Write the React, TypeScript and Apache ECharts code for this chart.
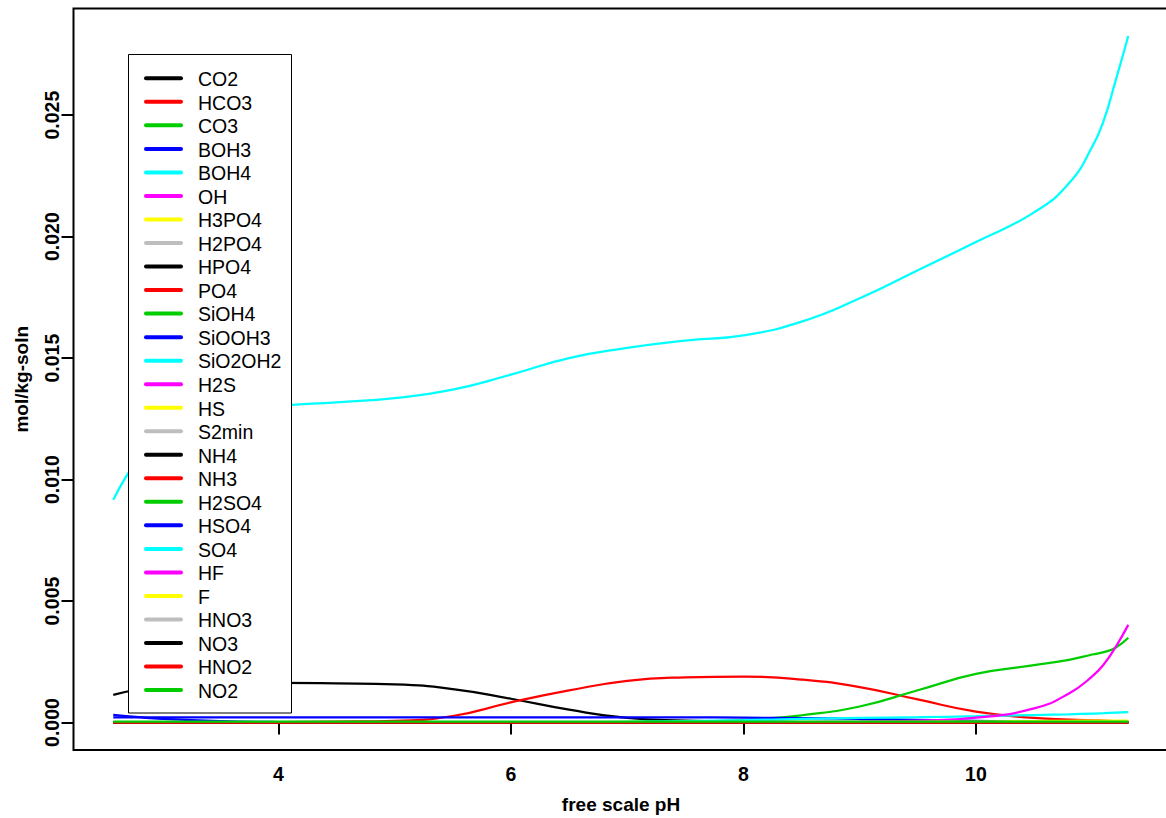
import React, { useEffect, useRef } from "react";
import * as echarts from "echarts";

// free scale pH grid (x values)
const pH = [2.58, 2.8, 3.0, 3.5, 4.0, 4.5, 5.0, 5.5, 6.0, 6.5, 7.0, 7.5, 8.0, 8.5, 9.0, 9.5, 10.0, 10.5, 10.8, 11.0, 11.1, 11.2, 11.31];

// species concentrations, mol/kg-soln
const CO2 = [0.00114, 0.00137, 0.0015, 0.0016, 0.00163, 0.00161, 0.00157, 0.00138, 0.00098, 0.00053, 0.00019, 0.00008, 0.00004, 0.00002, 0.00001, 0, 0, 0, 0, 0, 0, 0, 0];
const HCO3 = [0, 0, 0, 0.00001, 0.00002, 0.00004, 0.00007, 0.00027, 0.00083, 0.00132, 0.00172, 0.00186, 0.00189, 0.00177, 0.00146, 0.00095, 0.00045, 0.00019, 0.00012, 0.00009, 0.00008, 0.00006, 0.00005];
const CO3 = [0, 0, 0, 0, 0, 0, 0, 0, 0, 0.00001, 0.00002, 0.00004, 0.0001, 0.0003, 0.00066, 0.00133, 0.002, 0.00236, 0.00258, 0.0028, 0.0029, 0.00308, 0.00349];
const BOH3 = [0.00021, 0.00021, 0.00021, 0.00021, 0.00021, 0.00021, 0.00021, 0.00021, 0.00021, 0.00021, 0.00021, 0.00021, 0.0002, 0.00018, 0.00015, 0.00011, 0.00007, 0.00003, 0.00002, 0.00001, 0.00001, 0.00001, 0];
const BOH4 = [0, 0, 0, 0, 0, 0, 0, 0, 0.00001, 0.00001, 0.00003, 0.00006, 0.0001, 0.00015, 0.00019, 0.00022, 0.00026, 0.00031, 0.00034, 0.00037, 0.00039, 0.00041, 0.00043];
const OH = [0, 0, 0, 0, 0, 0, 0, 0, 0, 0, 0, 0.00001, 0.00001, 0.00002, 0.00004, 0.00008, 0.0002, 0.00058, 0.0012, 0.0019, 0.0024, 0.0031, 0.00402];
const H3PO4 = [0, 0, 0, 0, 0, 0, 0, 0, 0, 0, 0, 0, 0, 0, 0, 0, 0, 0, 0, 0, 0, 0, 0];
const H2PO4 = [0, 0, 0, 0, 0, 0, 0, 0, 0, 0, 0, 0, 0, 0, 0, 0, 0, 0, 0, 0, 0, 0, 0];
const HPO4 = [0, 0, 0, 0, 0, 0, 0, 0, 0, 0, 0, 0, 0, 0, 0, 0, 0, 0, 0, 0, 0, 0, 0];
const PO4 = [0, 0, 0, 0, 0, 0, 0, 0, 0, 0, 0, 0, 0, 0, 0, 0, 0, 0, 0, 0, 0, 0, 0];
const SiOH4 = [0, 0, 0, 0, 0, 0, 0, 0, 0, 0, 0, 0, 0, 0, 0, 0, 0, 0, 0, 0, 0, 0, 0];
const SiOOH3 = [0, 0, 0, 0, 0, 0, 0, 0, 0, 0, 0, 0, 0, 0, 0, 0, 0, 0, 0, 0, 0, 0, 0];
const SiO2OH2 = [0, 0, 0, 0, 0, 0, 0, 0, 0, 0, 0, 0, 0, 0, 0, 0, 0, 0, 0, 0, 0, 0, 0];
const H2S = [0, 0, 0, 0, 0, 0, 0, 0, 0, 0, 0, 0, 0, 0, 0, 0, 0, 0, 0, 0, 0, 0, 0];
const HS = [0, 0, 0, 0, 0, 0, 0, 0, 0, 0, 0, 0, 0, 0.00001, 0.00002, 0.00003, 0.00004, 0.00006, 0.00007, 0.00008, 0.00008, 0.00008, 0.00008];
const S2min = [0, 0, 0, 0, 0, 0, 0, 0, 0, 0, 0, 0, 0, 0, 0, 0, 0, 0, 0, 0, 0, 0, 0];
const NH4 = [0, 0, 0, 0, 0, 0, 0, 0, 0, 0, 0, 0, 0, 0, 0, 0, 0, 0, 0, 0, 0, 0, 0];
const NH3 = [0, 0, 0, 0, 0, 0, 0, 0, 0, 0, 0, 0, 0, 0, 0, 0, 0, 0, 0, 0, 0, 0, 0];
const H2SO4 = [0, 0, 0, 0, 0, 0, 0, 0, 0, 0, 0, 0, 0, 0, 0, 0, 0, 0, 0, 0, 0, 0, 0];
const HSO4 = [0.00032, 0.00022, 0.00015, 0.00006, 0.00002, 0.00001, 0, 0, 0, 0, 0, 0, 0, 0, 0, 0, 0, 0, 0, 0, 0, 0, 0];
const SO4 = [0.00917, 0.0109, 0.0119, 0.0127, 0.01302, 0.01318, 0.01335, 0.0137, 0.01432, 0.015, 0.01542, 0.01572, 0.01594, 0.0165, 0.01746, 0.01862, 0.01978, 0.021, 0.0222, 0.0237, 0.0248, 0.0264, 0.02826];
const HF = [0, 0, 0, 0, 0, 0, 0, 0, 0, 0, 0, 0, 0, 0, 0, 0, 0, 0, 0, 0, 0, 0, 0];
const F = [0, 0, 0, 0, 0, 0, 0, 0, 0, 0, 0, 0, 0, 0, 0, 0, 0, 0, 0, 0, 0, 0, 0];
const HNO3 = [0, 0, 0, 0, 0, 0, 0, 0, 0, 0, 0, 0, 0, 0, 0, 0, 0, 0, 0, 0, 0, 0, 0];
const NO3 = [0, 0, 0, 0, 0, 0, 0, 0, 0, 0, 0, 0, 0, 0, 0, 0, 0, 0, 0, 0, 0, 0, 0];
const HNO2 = [0, 0, 0, 0, 0, 0, 0, 0, 0, 0, 0, 0, 0, 0, 0, 0, 0, 0, 0, 0, 0, 0, 0];
const NO2 = [0.00004, 0.00004, 0.00004, 0.00004, 0.00004, 0.00004, 0.00004, 0.00004, 0.00004, 0.00004, 0.00004, 0.00004, 0.00004, 0.00004, 0.00004, 0.00004, 0.00004, 0.00004, 0.00004, 0.00004, 0.00004, 0.00004, 0.00004];

const speciesNames = ["CO2", "HCO3", "CO3", "BOH3", "BOH4", "OH", "H3PO4", "H2PO4", "HPO4", "PO4", "SiOH4", "SiOOH3", "SiO2OH2", "H2S", "HS", "S2min", "NH4", "NH3", "H2SO4", "HSO4", "SO4", "HF", "F", "HNO3", "NO3", "HNO2", "NO2"];
const speciesValues = [CO2, HCO3, CO3, BOH3, BOH4, OH, H3PO4, H2PO4, HPO4, PO4, SiOH4, SiOOH3, SiO2OH2, H2S, HS, S2min, NH4, NH3, H2SO4, HSO4, SO4, HF, F, HNO3, NO3, HNO2, NO2];
const palette = ["#000000", "#FF0000", "#00CD00", "#0000FF", "#00FFFF", "#FF00FF", "#FFFF00", "#BEBEBE"];

const xTicks = [4, 6, 8, 10];
const yTicks = [0, 0.005, 0.01, 0.015, 0.02, 0.025];

const FONT = "'Liberation Sans', Arial, Helvetica, sans-serif";

export default function App() {
  const ref = useRef<HTMLDivElement>(null);
  useEffect(() => {
    document.body.style.margin = "0";
    const chart = echarts.init(ref.current!, null, { renderer: "svg" });

    const colorOf = (i: number) => palette[i % palette.length];

    const series = speciesNames.map((name, i) => ({
      name,
      type: "line",
      data: pH.map((x, j) => [x, speciesValues[i][j]]),
      showSymbol: false,
      symbol: "none",
      smooth: 0.5,
      silent: true,
      lineStyle: { width: 2.25, color: colorOf(i) },
      itemStyle: { color: colorOf(i) },
      emphasis: { disabled: true },
    }));

    const legendLeft = 128.5;
    const legendTop = 54.5;
    const rowStart = 78.3;
    const rowStep = 23.53;
    const legendElems: any[] = [
      {
        type: "rect",
        shape: { x: legendLeft, y: legendTop, width: 163, height: 658.5 },
        style: { fill: "#ffffff", stroke: "#000000", lineWidth: 1 },
        z: 100,
      },
    ];
    speciesNames.forEach((name, i) => {
      const y = rowStart + i * rowStep;
      legendElems.push({
        type: "line",
        shape: { x1: 146, y1: y, x2: 181, y2: y },
        style: { stroke: colorOf(i), lineWidth: 4, lineCap: "round" },
        z: 101,
      });
      legendElems.push({
        type: "text",
        x: 198,
        y: y + 0.8,
        style: {
          text: name,
          fill: "#000000",
          font: `19.5px ${FONT}`,
          verticalAlign: "middle",
          align: "left",
        },
        z: 101,
      });
    });

    chart.setOption({
      animation: false,
      backgroundColor: "#ffffff",
      grid: {
        left: 73.5,
        top: 8.5,
        width: 1095,
        height: 741.5,
        show: true,
        borderColor: "#000000",
        borderWidth: 2,
        backgroundColor: "transparent",
        containLabel: false,
        outerBoundsMode: "none",
      },
      xAxis: {
        type: "value",
        min: 2.238,
        max: 11.656,
        axisLine: { show: false },
        splitLine: { show: false },
        axisTick: { show: true, inside: false, length: 12, lineStyle: { color: "#000000", width: 2 }, customValues: xTicks },
        axisLabel: {
          customValues: xTicks,
          fontSize: 19.5,
          fontWeight: "bold",
          color: "#000000",
          fontFamily: FONT,
          margin: 14,
          formatter: (v: number) => String(v),
        },
        name: "free scale pH",
        nameLocation: "middle",
        nameGap: 45,
        nameTextStyle: { fontSize: 19, fontWeight: "bold", color: "#000000", fontFamily: FONT },
      },
      yAxis: {
        type: "value",
        min: -0.00113,
        max: 0.02939,
        axisLine: { show: false },
        splitLine: { show: false },
        axisTick: { show: true, inside: false, length: 12, lineStyle: { color: "#000000", width: 2 }, customValues: yTicks },
        axisLabel: {
          customValues: yTicks,
          rotate: 90,
          fontSize: 19.5,
          fontWeight: "bold",
          color: "#000000",
          fontFamily: FONT,
          margin: 12,
          formatter: (v: number) => v.toFixed(3),
        },
        name: "mol/kg-soln",
        nameLocation: "middle",
        nameGap: 43,
        nameTextStyle: { fontSize: 19, fontWeight: "bold", color: "#000000", fontFamily: FONT },
      },
      series,
      graphic: legendElems,
    });
    return () => chart.dispose();
  }, []);
  return <div ref={ref} style={{ width: 1166, height: 818 }} />;
}
